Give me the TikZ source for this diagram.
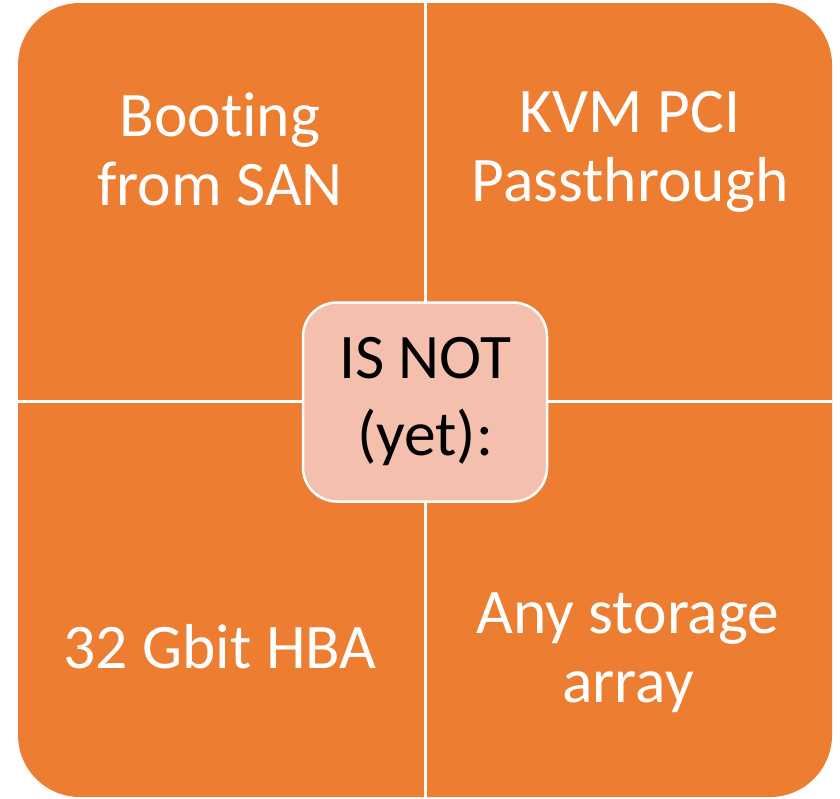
\documentclass[tikz,border=0pt]{standalone}
\usepackage{fontspec}
\setmainfont{Carlito}[Ligatures=NoCommon]
\usetikzlibrary{positioning}
\definecolor{matorange}{HTML}{ED7D31}
\definecolor{coresalmon}{HTML}{F4BFAD}

\begin{document}
\begin{tikzpicture}[x=1pt, y=-1pt,
        matbox/.style={fill=matorange, rounded corners=62pt, minimum width=814pt, minimum height=794pt, inner sep=0pt},
        divider/.style={draw=white, line width=3pt},
        corebox/.style={rounded corners=34pt, draw=white, line width=2.5pt, fill=coresalmon, minimum width=244pt, minimum height=199pt, align=center, font=\fontsize{63.5}{77}\selectfont},
        quad/.style={text=white, align=center, font=\fontsize{63.5}{69}\selectfont}
    ]
    \useasboundingbox (0,0) rectangle (840,798);
    \node[matbox] (mat) at (425,400) {};
    \coordinate (midleft) at (18,401);
    \coordinate (midright) at (832,401);
    \draw[divider] (mat.north) -- (mat.south);
    \draw[divider] (midleft) -- (midright);

    \node[quad] (boot) at (220,149) {Booting\\from SAN};
    \node[quad] (kvm) at (630,152) {KVM PCI\\Passthrough};
    \node[quad] (hba) at (220,647) {32 Gbit HBA};
    \node[quad] (array) at (628,653) {Any storage\\array};

    \node[corebox] (core) at (425,402) {IS NOT\\(yet):};
\end{tikzpicture}
\end{document}
